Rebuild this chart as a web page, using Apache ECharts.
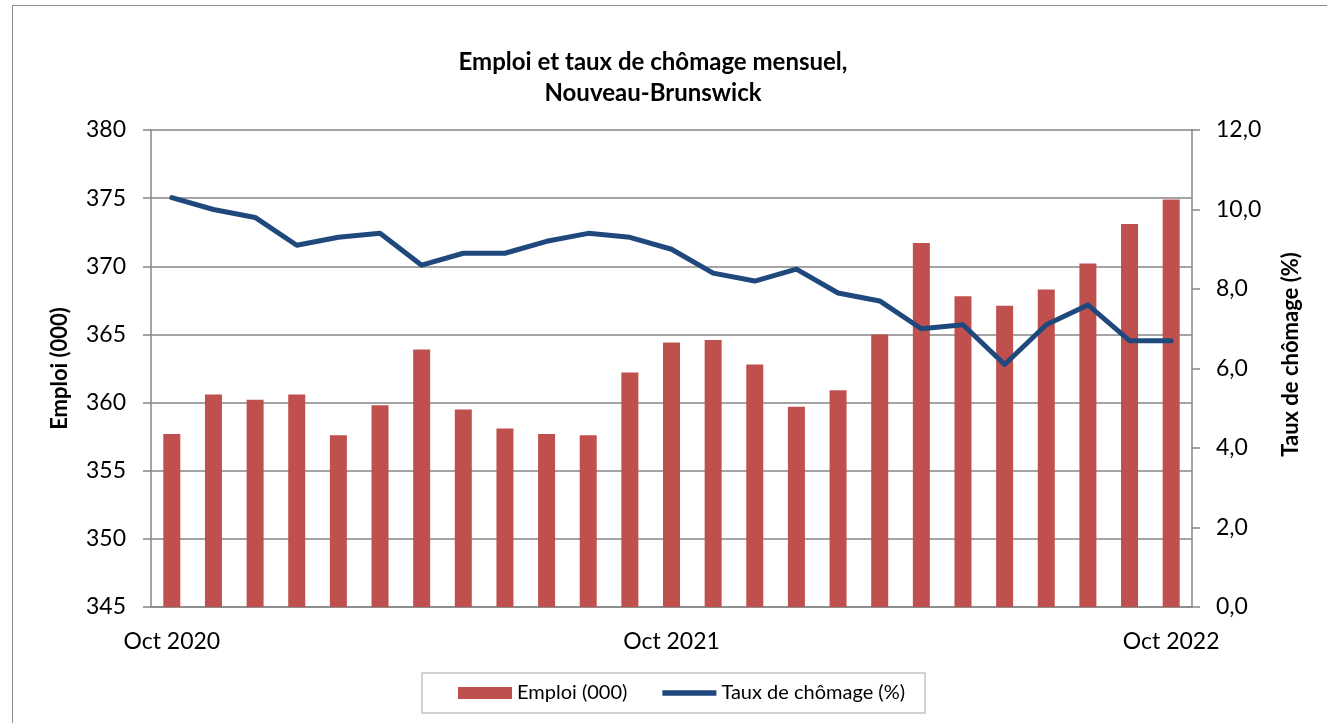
<!DOCTYPE html>
<html>
<head>
<meta charset="utf-8">
<script src="https://cdn.jsdelivr.net/npm/echarts@6/dist/echarts.min.js"></script>
<style>
  html, body { margin: 0; padding: 0; background: #fff; }
  #frame { position: absolute; left: 12px; top: 5px; width: 1330px; height: 730px; border: 1px solid #8c8c8c; }
  #chart { position: absolute; left: 0; top: 0; width: 1327px; height: 723px; }
</style>
</head>
<body>
<div id="frame"></div>
<div id="chart"></div>
<script>
const months = [
  "Oct 2020", "Nov 2020", "Déc 2020", "Jan 2021", "Fév 2021", "Mar 2021", "Avr 2021",
  "Mai 2021", "Juin 2021", "Juil 2021", "Août 2021", "Sep 2021", "Oct 2021",
  "Nov 2021", "Déc 2021", "Jan 2022", "Fév 2022", "Mar 2022", "Avr 2022",
  "Mai 2022", "Juin 2022", "Juil 2022", "Août 2022", "Sep 2022", "Oct 2022",
];

// Emploi (milliers)
const emploi = [
  357.7, 360.6, 360.2, 360.6, 357.6, 359.8, 363.9, 359.5, 358.1, 357.7, 357.6, 362.2,
  364.4, 364.6, 362.8, 359.7, 360.9, 365.0, 371.7, 367.8, 367.1, 368.3, 370.2, 373.1, 374.9,
];

// Taux de chômage (%)
const chomage = [
  10.3, 10.0, 9.8, 9.1, 9.3, 9.4, 8.6, 8.9, 8.9, 9.2, 9.4, 9.3,
  9.0, 8.4, 8.2, 8.5, 7.9, 7.7, 7.0, 7.1, 6.1, 7.1, 7.6, 6.7, 6.7,
];

const FONT = "Lato";
const axisGray = "#868686";
const txt = "#000";

const chart = echarts.init(document.getElementById("chart"));
chart.setOption({
  animation: false,
  textStyle: { fontFamily: FONT, color: txt },
  title: {
    text: "Emploi et taux de chômage mensuel,\nNouveau-Brunswick",
    left: 648,
    top: 42,
    textAlign: "center",
    textStyle: { fontFamily: FONT, fontSize: 24, fontWeight: "bold", color: txt, lineHeight: 31 },
  },
  grid: { left: 151, right: 135, top: 130, bottom: 116 },
  legend: {
    left: 422,
    top: 673,
    padding: [10, 20, 10, 36],
    itemGap: 35,
    itemWidth: 54,
    itemHeight: 12,
    borderColor: "#c4c4c4",
    borderWidth: 1.5,
    textStyle: { fontFamily: FONT, fontSize: 20, color: txt },
    data: [
      { name: "Emploi (000)", icon: "rect" },
      { name: "Taux de chômage (%)", icon: "path://M0,0 L100,0 L100,10 L0,10 Z" },
    ],
  },
  xAxis: {
    type: "category",
    data: months,
    boundaryGap: true,
    axisLine: { lineStyle: { color: axisGray, width: 1.5 } },
    axisTick: { interval: 0, length: 8, lineStyle: { color: axisGray, width: 1.5 } },
    axisLabel: {
      interval: (i) => i % 12 === 0,
      fontSize: 23,
      color: txt,
      margin: 23,
    },
  },
  yAxis: [
    {
      type: "value",
      min: 345,
      max: 380,
      interval: 5,
      name: "Emploi (000)",
      nameLocation: "middle",
      nameGap: 80,
      nameTextStyle: { fontFamily: FONT, fontSize: 22, fontWeight: "bold", color: txt },
      axisLine: { show: true, lineStyle: { color: axisGray, width: 1.5 } },
      axisTick: { show: true, inside: false, length: 8, lineStyle: { color: axisGray, width: 1.5 } },
      axisLabel: { fontSize: 23, color: txt, margin: 25 },
      splitLine: { lineStyle: { color: axisGray, width: 1.5 } },
    },
    {
      type: "value",
      min: 0,
      max: 12,
      interval: 2,
      name: "Taux de chômage (%)",
      nameLocation: "middle",
      nameGap: 88,
      nameRotate: 90,
      nameTextStyle: { fontFamily: FONT, fontSize: 22, fontWeight: "bold", color: txt, padding: [0, 0, 0, 28] },
      axisLine: { show: true, lineStyle: { color: axisGray, width: 1.5 } },
      axisTick: { show: true, length: 8, lineStyle: { color: axisGray, width: 1.5 } },
      axisLabel: {
        fontSize: 23,
        color: txt,
        margin: 24,
        formatter: (v) => v.toFixed(1).replace(".", ","),
      },
      splitLine: { show: false },
    },
  ],
  series: [
    {
      name: "Emploi (000)",
      type: "bar",
      data: emploi,
      barWidth: 17,
      itemStyle: { color: "#c0504d" },
    },
    {
      name: "Taux de chômage (%)",
      type: "line",
      yAxisIndex: 1,
      data: chomage,
      symbol: "none",
      lineStyle: { color: "#1f497d", width: 5, join: "round", cap: "round" },
      itemStyle: { color: "#1f497d" },
    },
  ],
});
</script>
</body>
</html>
